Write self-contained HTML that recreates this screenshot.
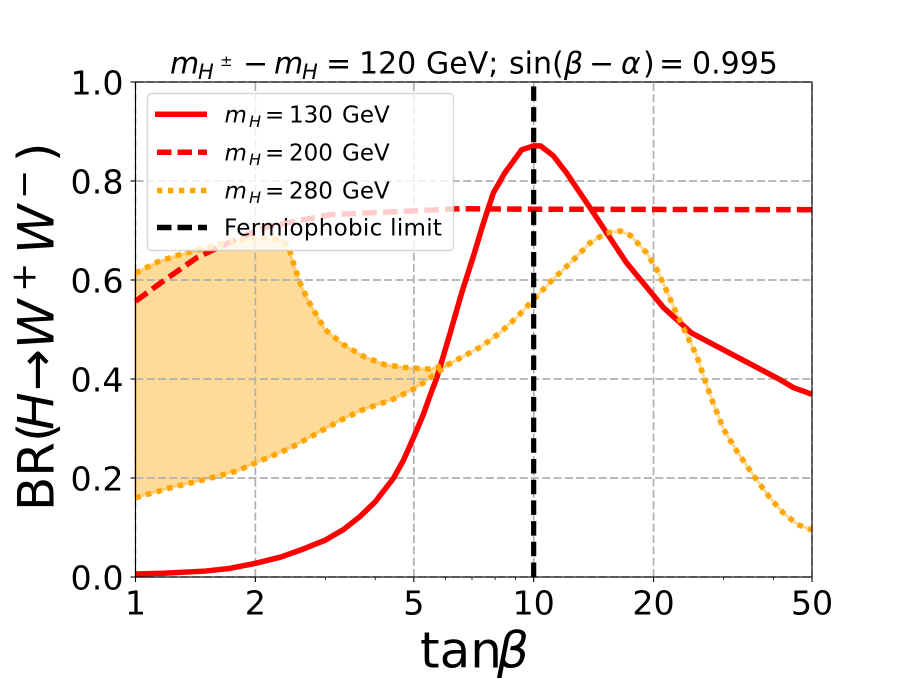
<!DOCTYPE html>
<html>
<head>
<meta charset="utf-8">
<style>
html,body{margin:0;padding:0;background:#fff;}
svg{display:block;font-family:"DejaVu Sans","Liberation Sans",sans-serif;}
.it{font-style:italic;}
</style>
</head>
<body>
<svg id="chart" xmlns="http://www.w3.org/2000/svg" width="902" height="679" viewBox="0 0 902 679">
<rect width="902" height="679" fill="#fff"/>
<g id="plot"></g>
<g id="axes"></g>

<text y="73.3" font-size="30" fill="#000"><tspan class="it" x="170">m</tspan><tspan class="it" x="198" y="79" font-size="21">H</tspan><tspan x="220" y="66" font-size="15">±</tspan><tspan x="243" y="73.3">−</tspan><tspan class="it" x="274">m</tspan><tspan class="it" x="302" y="79" font-size="21">H</tspan><tspan x="326" y="73.3">=</tspan><tspan x="359">120</tspan><tspan x="426">GeV;</tspan><tspan x="509">sin(</tspan><tspan class="it" x="564">β</tspan><tspan x="589">−</tspan><tspan class="it" x="621">α</tspan><tspan x="643">)</tspan><tspan x="659">=</tspan><tspan x="692">0.995</tspan></text>

<text y="667.6" font-size="50" fill="#000"><tspan x="420">tan</tspan><tspan class="it" x="497">β</tspan></text>

<g transform="translate(53.3,511) rotate(-90)" font-size="50" fill="#000">
<text x="0" y="0">BR(</text>
<text class="it" x="81" y="0">H</text>
<text x="120" y="0">→</text>
<text class="it" x="162" y="0">W</text>
<text x="219" y="-18" font-size="35">+</text>
<text class="it" x="257" y="0">W</text>
<text x="312" y="-18" font-size="35">−</text>
<text x="349" y="0">)</text>
</g>

<g id="legend">
<rect x="147.5" y="93.5" width="306" height="157" rx="4" ry="4" fill="#fff" fill-opacity="0.8" stroke="#ccc" stroke-opacity="0.8" stroke-width="1.4"/>
<g>
<line x1="155" x2="207" y1="114.3" y2="114.3" stroke="#f00" stroke-width="5.5"/>
<text y="122.3" font-size="23"><tspan class="it" x="224.5">m</tspan><tspan class="it" x="249" y="127" font-size="16">H</tspan><tspan x="265" y="122.3">=</tspan><tspan x="289">130</tspan><tspan x="342">GeV</tspan></text>
</g>
<g>
<line x1="157" x2="207" y1="152.3" y2="152.3" stroke="#f00" stroke-width="5.5" stroke-dasharray="14.5 6"/>
<text y="160.5" font-size="23"><tspan class="it" x="224.5">m</tspan><tspan class="it" x="249" y="165" font-size="16">H</tspan><tspan x="265" y="160.5">=</tspan><tspan x="289">200</tspan><tspan x="342">GeV</tspan></text>
</g>
<g>
<line x1="157" x2="207" y1="190.5" y2="190.5" stroke="#ffa500" stroke-width="5.5" stroke-dasharray="5.3 5.7"/>
<text y="198.4" font-size="23"><tspan class="it" x="224.5">m</tspan><tspan class="it" x="249" y="203" font-size="16">H</tspan><tspan x="265" y="198.4">=</tspan><tspan x="289">280</tspan><tspan x="342">GeV</tspan></text>
</g>
<g>
<line x1="157" x2="207" y1="227.5" y2="227.5" stroke="#000" stroke-width="5.5" stroke-dasharray="14.5 6"/>
<text x="224" y="235.7" font-size="23" letter-spacing="0.3">Fermiophobic limit</text>
</g>
</g>

<script>
var xTickValues = [1, 2, 5, 10, 20, 50];
var xTickLabels = ["1", "2", "5", "10", "20", "50"];
var xMinorValues = [3, 4, 6, 7, 8, 9, 30, 40];
var yTickValues = [0, 0.2, 0.4, 0.6, 0.8, 1.0];
var yTickLabels = ["0.0", "0.2", "0.4", "0.6", "0.8", "1.0"];

var m130Tan = [1, 1.175, 1.5, 1.727, 2, 2.31, 2.64, 3, 3.33, 3.66, 4, 4.44, 4.71, 5, 5.28, 5.54, 5.71, 6.16, 6.6, 7.05, 7.47, 7.92, 8.47, 9.33, 10, 10.4, 11.2, 12.1, 13.85, 17.1, 21.2, 24.9, 41.5, 44.8, 50];
var m130BR = [0.006, 0.0075, 0.012, 0.0175, 0.0276, 0.04, 0.0566, 0.0747, 0.096, 0.122, 0.152, 0.199, 0.236, 0.283, 0.328, 0.375, 0.402, 0.491, 0.575, 0.647, 0.714, 0.776, 0.817, 0.863, 0.871, 0.871, 0.851, 0.816, 0.746, 0.635, 0.544, 0.493, 0.399, 0.383, 0.369];

var m200Tan = [1, 1.17, 1.425, 1.54, 1.83, 2.18, 3.08, 6.53, 10, 50];
var m200BR = [0.557, 0.597, 0.645, 0.658, 0.686, 0.709, 0.732, 0.744, 0.743, 0.742];

var m280UpperTan = [1, 1.139, 1.29, 1.55, 1.76, 2.01, 2.31, 2.42, 2.49, 2.59, 2.72, 2.99, 3.32, 3.73, 4.23, 4.8, 5.49, 6.16];
var m280UpperBR = [0.614, 0.637, 0.651, 0.668, 0.68, 0.685, 0.682, 0.668, 0.635, 0.594, 0.557, 0.5, 0.47, 0.446, 0.429, 0.423, 0.42, 0.431];

var m280LowerTan = [1, 1.22, 1.495, 1.795, 2.01, 2.44, 2.9, 3.26, 3.7, 4.43, 4.7, 4.98, 5.28, 5.7, 6.16, 7.4, 8.22, 9.13, 10, 11.2, 12.6, 13.85, 15.2, 16.5, 17.5, 19.2, 20.4, 21.6, 22.9, 24.2, 25.7, 26.7, 28, 30, 32.4, 36, 39.2, 42.3, 46, 50];
var m280LowerBR = [0.16, 0.18, 0.197, 0.214, 0.231, 0.26, 0.293, 0.316, 0.337, 0.359, 0.369, 0.379, 0.392, 0.412, 0.431, 0.466, 0.493, 0.527, 0.561, 0.602, 0.641, 0.675, 0.695, 0.699, 0.69, 0.655, 0.621, 0.577, 0.53, 0.49, 0.446, 0.406, 0.359, 0.298, 0.254, 0.2, 0.16, 0.13, 0.106, 0.095];

var fermiophobicTan = [10, 10];
var fermiophobicBR = [0, 1];

var NS = "http://www.w3.org/2000/svg";
var plotLeft = 135.5, plotRight = 812, plotTop = 82, plotBottom = 577;

function xScale(v) {
  return plotLeft + (plotRight - plotLeft) * Math.log(v) / Math.log(50);
}
function yScale(v) {
  return plotBottom - (plotBottom - plotTop) * v;
}
function pathFrom(xs, ys) {
  var d = "";
  for (var i = 0; i < xs.length; i++) {
    d += (i ? "L" : "M") + xScale(xs[i]).toFixed(2) + " " + yScale(ys[i]).toFixed(2);
  }
  return d;
}
function make(parent, tag, attrs) {
  var el = document.createElementNS(NS, tag);
  for (var k in attrs) { el.setAttribute(k, attrs[k]); }
  parent.appendChild(el);
  return el;
}

var plot = document.getElementById("plot");
var axes = document.getElementById("axes");

/* Shaded band: upper edge, then the merged part of the lower edge, then back */
var tailStart = m280LowerTan.indexOf(6.16);
var bandPath = pathFrom(m280UpperTan, m280UpperBR) +
  pathFrom(m280LowerTan.slice(tailStart), m280LowerBR.slice(tailStart)).replace("M", "L") +
  pathFrom(m280LowerTan.slice().reverse(), m280LowerBR.slice().reverse()).replace("M", "L") + "Z";
var band = make(plot, "path", {d: bandPath, fill: "#ffa500", "fill-opacity": 0.4, stroke: "#ffa500", "stroke-opacity": 0.4, "stroke-width": 3, "stroke-linejoin": "round"});



/* Grid */
yTickValues.forEach(function (v) {
  var g = make(plot, "line", {x1: plotLeft, x2: plotRight, y1: yScale(v), y2: yScale(v), stroke: "#b0b0b0", "stroke-width": 1.7, "stroke-dasharray": "8 3.3"});
  
  
});
xTickValues.forEach(function (v) {
  var g = make(plot, "line", {x1: xScale(v), x2: xScale(v), y1: plotBottom, y2: plotTop, stroke: "#b0b0b0", "stroke-width": 1.7, "stroke-dasharray": "8 3.3"});
  
  
});

/* Series */
var s130 = make(plot, "path", {d: pathFrom(m130Tan, m130BR), fill: "none", stroke: "#f00", "stroke-width": 5.5, "stroke-linejoin": "round"});



var s200 = make(plot, "path", {d: pathFrom(m200Tan, m200BR), fill: "none", stroke: "#f00", "stroke-width": 5.5, "stroke-dasharray": "14.5 6.2"});



var s280u = make(plot, "path", {d: pathFrom(m280UpperTan, m280UpperBR), fill: "none", stroke: "#ffa500", "stroke-width": 5.5, "stroke-dasharray": "5.3 5.7"});



var s280l = make(plot, "path", {d: pathFrom(m280LowerTan, m280LowerBR), fill: "none", stroke: "#ffa500", "stroke-width": 5.5, "stroke-dasharray": "5.3 5.7"});



var sFermi = make(plot, "path", {d: pathFrom(fermiophobicTan, fermiophobicBR), fill: "none", stroke: "#000", "stroke-width": 5.2, "stroke-dasharray": "14.5 6.2"});



/* Frame and ticks */
var frame = make(axes, "rect", {x: plotLeft, y: plotTop, width: plotRight - plotLeft, height: plotBottom - plotTop, fill: "none", stroke: "#000", "stroke-width": 1.1});



xTickValues.forEach(function (v, i) {
  var t = make(axes, "line", {x1: xScale(v), x2: xScale(v), y1: plotBottom, y2: plotBottom + 5, stroke: "#000", "stroke-width": 1.1});
  
  
  var l = make(axes, "text", {x: xScale(v), y: 614.6, "text-anchor": "middle", "font-size": 33.3, fill: "#000"});
  
  
  l.textContent = xTickLabels[i];
});
xMinorValues.forEach(function (v) {
  var t = make(axes, "line", {x1: xScale(v), x2: xScale(v), y1: plotBottom, y2: plotBottom + 3, stroke: "#000", "stroke-width": 0.8});
  
  
});
yTickValues.forEach(function (v, i) {
  var t = make(axes, "line", {x1: plotLeft - 5, x2: plotLeft, y1: yScale(v), y2: yScale(v), stroke: "#000", "stroke-width": 1.1});
  
  
  var l = make(axes, "text", {x: 123.5, y: yScale(v) + 12.5, "text-anchor": "end", "font-size": 33.3, fill: "#000"});
  
  
  l.textContent = yTickLabels[i];
});
</script>
</svg>
</body>
</html>
